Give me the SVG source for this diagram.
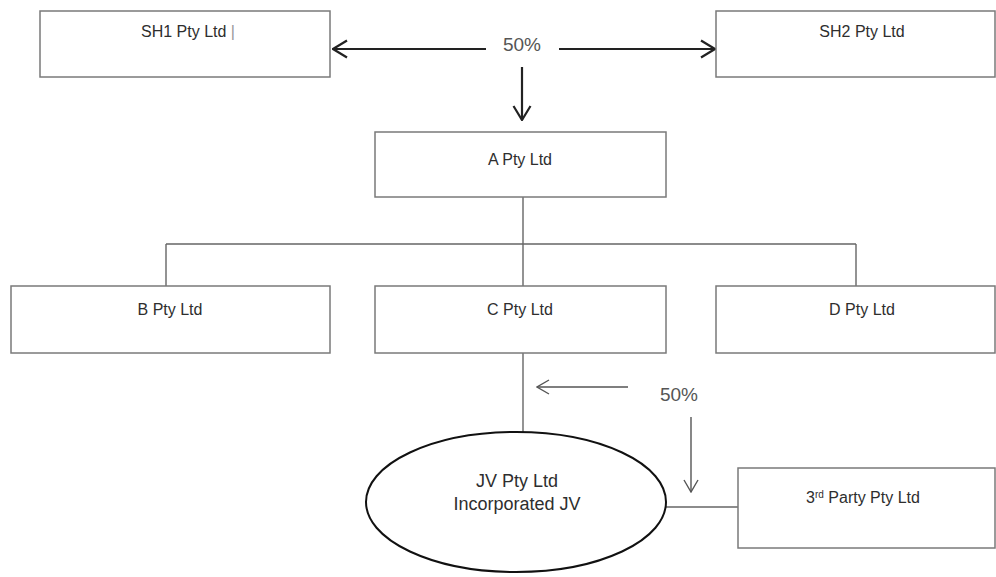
<svg xmlns="http://www.w3.org/2000/svg" width="996" height="577" viewBox="0 0 996 577">
<style>
.box{fill:#fff;stroke:#7a7a7a;stroke-width:1.5}
.lbl{font-family:"Liberation Sans",Arial,sans-serif;font-size:16px;fill:#2e2e2e;text-anchor:middle}
.pct{font-family:"Liberation Sans",Arial,sans-serif;font-size:19px;fill:#555;text-anchor:middle}
.big{stroke:#222;stroke-width:2.2;fill:none}
.thin{stroke:#555;stroke-width:1.4;fill:none}
.con{stroke:#666;stroke-width:1.4;fill:none}
</style>
<defs>
<marker id="hBig" viewBox="0 0 16 20" refX="15" refY="10" markerWidth="16" markerHeight="20" markerUnits="userSpaceOnUse" orient="auto">
<path d="M1,1.5 L15,10 L1,18.5" fill="none" stroke="#222" stroke-width="2.2"/>
</marker>
<marker id="hSmall" viewBox="0 0 14 16" refX="13" refY="8" markerWidth="14" markerHeight="16" markerUnits="userSpaceOnUse" orient="auto">
<path d="M1,1 L13,8 L1,15" fill="none" stroke="#555" stroke-width="1.4"/>
</marker>
</defs>
<rect width="996" height="577" fill="#fff"/>
<g id="connectors">
<line class="big" x1="486" y1="49" x2="333" y2="49" marker-end="url(#hBig)"/>
<line class="big" x1="559" y1="49" x2="715" y2="49" marker-end="url(#hBig)"/>
<line class="big" x1="522" y1="67" x2="522" y2="120" marker-end="url(#hBig)"/>
<text class="pct" x="522" y="51">50%</text>
<path class="con" d="M523,197 V244 M166,244 H856 M166,244 V286 M523,244 V286 M856,244 V286"/>
<line class="con" x1="523" y1="353" x2="523" y2="432"/>
<line class="con" x1="666" y1="507" x2="738" y2="507"/>
<line class="thin" x1="628" y1="387" x2="537" y2="387" marker-end="url(#hSmall)"/>
<line class="thin" x1="691" y1="417" x2="691" y2="492" marker-end="url(#hSmall)"/>
<text class="pct" x="679" y="401">50%</text>
</g>
<g id="sh1"><rect class="box" x="40" y="11" width="290" height="66"/><text class="lbl" x="188" y="37">SH1 Pty Ltd <tspan fill="#999">|</tspan></text></g>
<g id="sh2"><rect class="box" x="716" y="11" width="279" height="66"/><text class="lbl" x="862" y="37">SH2 Pty Ltd</text></g>
<g id="a"><rect class="box" x="375" y="132" width="291" height="65"/><text class="lbl" x="520" y="165">A Pty Ltd</text></g>
<g id="b"><rect class="box" x="11" y="286" width="319" height="67"/><text class="lbl" x="170" y="315">B Pty Ltd</text></g>
<g id="c"><rect class="box" x="375" y="286" width="291" height="67"/><text class="lbl" x="520" y="315">C Pty Ltd</text></g>
<g id="d"><rect class="box" x="716" y="286" width="279" height="67"/><text class="lbl" x="862" y="315">D Pty Ltd</text></g>
<g id="jv"><ellipse cx="516" cy="502" rx="150" ry="70" fill="#fff" stroke="#111" stroke-width="2"/>
<text class="lbl" style="font-size:18px" x="517" y="487">JV Pty Ltd</text>
<text class="lbl" style="font-size:18px" x="517" y="510">Incorporated JV</text></g>
<g id="third"><rect class="box" x="738" y="468" width="257" height="80"/><text class="lbl" x="863" y="503">3<tspan font-size="10" dy="-5">rd</tspan><tspan dy="5"> Party Pty Ltd</tspan></text></g>
</svg>
